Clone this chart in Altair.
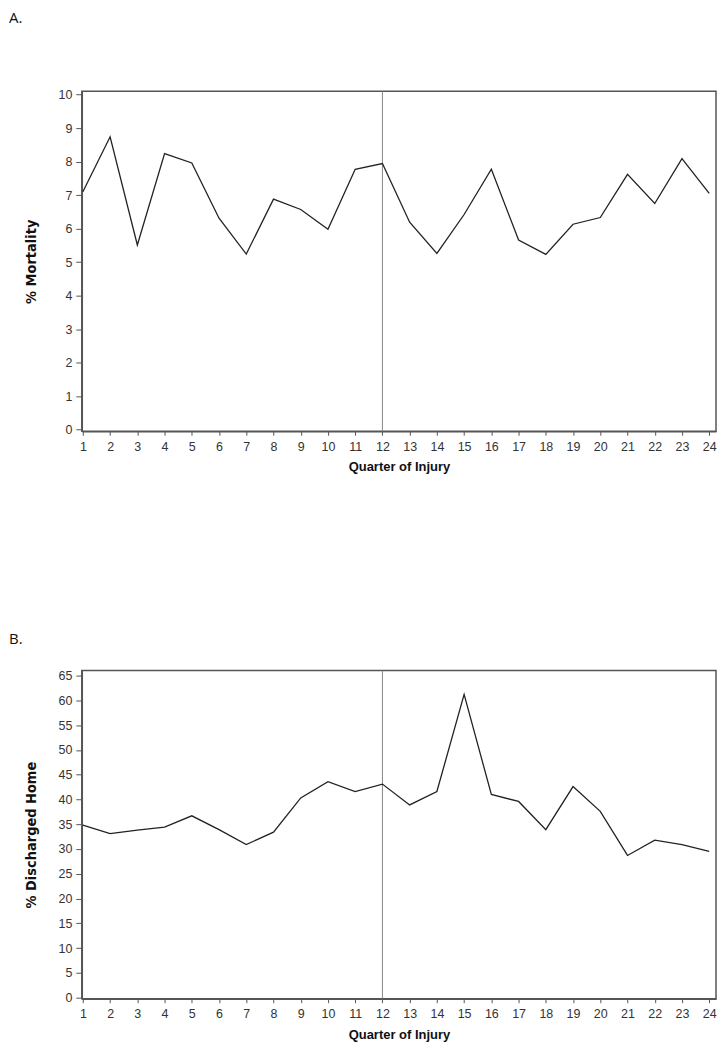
import altair as alt
import pandas as pd

quarters = list(range(1, 25))
mortality = [7.10, 8.74, 5.51, 8.24, 7.96, 6.31, 5.24, 6.88, 6.57, 5.98, 7.77, 7.94,
             6.19, 5.26, 6.42, 7.77, 5.66, 5.23, 6.13, 6.33, 7.62, 6.75, 8.09, 7.05]
discharged = [34.8, 33.1, 33.8, 34.4, 36.7, 33.9, 30.9, 33.4, 40.3, 43.6, 41.6, 43.1,
              38.9, 41.6, 61.2, 41.0, 39.6, 33.9, 42.6, 37.6, 28.7, 31.8, 30.9, 29.5]
cut_quarter = [12]
mort_ticks = list(range(0, 11))
home_ticks = list(range(0, 66, 5))

LABEL_FONT = "Liberation Sans"
YTITLE_FONT = "Liberation Sans Narrow, DejaVu Sans Condensed, Liberation Sans"

df_a = pd.DataFrame({"quarter": quarters, "value": mortality})
df_b = pd.DataFrame({"quarter": quarters, "value": discharged})
df_cut = pd.DataFrame({"quarter": cut_quarter})

XDOM = [0.96, 24.25]

x_enc = alt.X(
    "quarter:Q",
    scale=alt.Scale(domain=XDOM, nice=False, zero=False),
    axis=alt.Axis(
        values=quarters, format="d", labelAngle=0, labelFlush=False,
        labelOverlap=False, labelFontSize=12.5, labelFont=LABEL_FONT,
        labelColor="#333",
        title="Quarter of Injury", titleFont=LABEL_FONT, titleFontSize=13,
        titleFontWeight="bold", titleColor="#111", titlePadding=8,
        tickSize=4, labelPadding=5,
    ),
)


def panel(df, label, ytitle, ydomain, yticks, height, title_offset):
    y = alt.Y(
        "value:Q",
        scale=alt.Scale(domain=ydomain, nice=False, zero=False),
        axis=alt.Axis(
            values=yticks, format="d", labelOverlap=False, labelFontSize=12.5,
            labelFont=LABEL_FONT, labelColor="#333",
            title=ytitle, titleFont=YTITLE_FONT,
            titleFontSize=14.5, titleFontWeight="bold", titleColor="#111",
            titlePadding=20, tickSize=6, labelPadding=4,
        ),
    )
    line = alt.Chart(df).mark_line(color="#222", strokeWidth=1.3).encode(x=x_enc, y=y)
    rule = alt.Chart(df_cut).mark_rule(color="#888", strokeWidth=1).encode(x=x_enc)
    return alt.layer(rule, line).properties(
        width=636,
        height=height,
        title=alt.TitleParams(
            text=label, anchor="start", frame="group", dx=-73,
            font="Open Sans", fontSize=15, fontWeight="normal", color="#111",
            offset=title_offset,
        ),
    )


top = panel(df_a, "A.", "% Mortality", [-0.05, 10.1], mort_ticks, 341, 63)
bottom = panel(df_b, "B.", "% Discharged Home", [-0.2, 66], home_ticks, 329, 23)

chart = alt.vconcat(top, bottom, spacing=156).properties(
    padding={"left": 0, "top": 0, "right": 2, "bottom": 5}
).configure_view(
    stroke="#555", strokeWidth=1.5
).configure_axis(
    grid=False, labelFont=LABEL_FONT, labelFontSize=12.5, labelColor="#333",
    labelOverlap=False,
    tickColor="#555", domainColor="#555", domainWidth=1.5, tickWidth=1,
).configure_concat(spacing=156)

chart.save("out.html", embed_options={"renderer": "svg", "actions": False})
